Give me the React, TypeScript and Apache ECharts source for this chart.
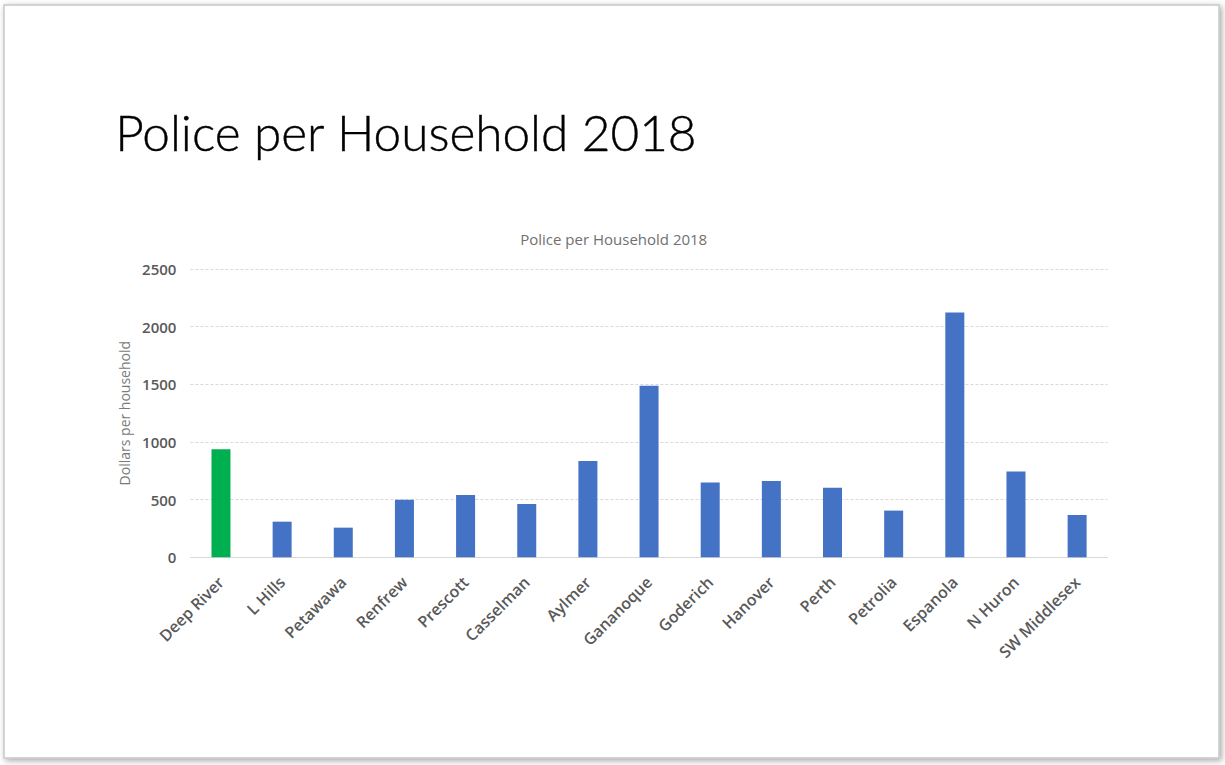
import React, { useEffect, useRef } from "react";
import * as echarts from "echarts";

const categories = [
  "Deep River", "L Hills", "Petawawa", "Renfrew", "Prescott", "Casselman", "Aylmer",
  "Gananoque", "Goderich", "Hanover", "Perth", "Petrolia", "Espanola", "N Huron", "SW Middlesex",
];
const values = [937, 309, 257, 500, 541, 463, 836, 1488, 648, 662, 604, 405, 2123, 743, 367];
const highlighted = ["Deep River"];
const yTicks = { min: 0, max: 2500, interval: 500 };
const mainTitle = "Police per Household 2018";
const chartTitle = "Police per Household 2018";
const yName = "Dollars per household";

const BLUE = "#4472c4";
const GREEN = "#00b050";

export default function App() {
  const ref = useRef<HTMLDivElement>(null);
  useEffect(() => {
    if (!ref.current) return;
    const chart = echarts.init(ref.current, null, { renderer: "svg" });
    chart.setOption({
      animation: false,
      backgroundColor: "#ffffff",
      graphic: [
        {
          type: "rect",
          z: -10,
          shape: { x: 4, y: 5, width: 1215, height: 753 },
          style: {
            fill: "#ffffff",
            stroke: "#c8c8c8",
            lineWidth: 1.5,
            shadowBlur: 6,
            shadowOffsetX: 2,
            shadowOffsetY: 2,
            shadowColor: "rgba(0,0,0,0.35)",
          },
        },
        {
          type: "text",
          left: 115,
          top: 107,
          style: {
            text: mainTitle,
            font: "300 49.5px Lato",
            fill: "#000000",
            stroke: "#000000",
            lineWidth: 0.4,
          },
        },
        {
          type: "text",
          x: 613.7,
          y: 239,
          style: {
            text: chartTitle,
            font: "15px 'Open Sans'",
            fill: "#707070",
            align: "center",
            verticalAlign: "middle",
          },
        },
      ],
      grid: { left: 190.4, right: 117.3, top: 269, bottom: 207.7, containLabel: false },
      xAxis: {
        type: "category",
        data: categories,
        axisLine: { show: true, lineStyle: { color: "#d9d9d9", width: 1 } },
        axisTick: { show: false },
        axisLabel: {
          interval: 0,
          rotate: 45,
          margin: 22,
          color: "#595959",
          fontFamily: "Open Sans",
          fontWeight: 600,
          fontSize: 16,
        },
      },
      yAxis: {
        type: "value",
        min: yTicks.min,
        max: yTicks.max,
        interval: yTicks.interval,
        name: yName,
        nameLocation: "middle",
        nameGap: 37,
        nameTextStyle: { color: "#7a7a7a", fontFamily: "Open Sans", fontSize: 14 },
        axisLine: { show: false },
        axisTick: { show: false },
        axisLabel: {
          margin: 14,
          color: "#595959",
          fontFamily: "Open Sans",
          fontWeight: 600,
          fontSize: 15,
          formatter: (v: number) => String(v),
        },
        splitLine: { lineStyle: { color: "#d9d9d9", type: [3, 2], width: 1 } },
      },
      series: [
        {
          type: "bar",
          barWidth: 19,
          data: values.map((v, i) => ({
            value: v,
            itemStyle: { color: highlighted.includes(categories[i]) ? GREEN : BLUE },
          })),
        },
      ],
    });
    return () => chart.dispose();
  }, []);
  return (
    <div
      ref={ref}
      style={{ position: "absolute", left: 0, top: 0, width: 1225, height: 765 }}
    />
  );
}
